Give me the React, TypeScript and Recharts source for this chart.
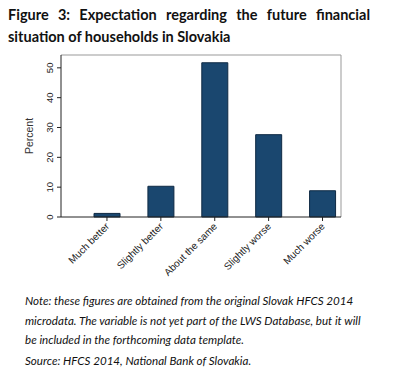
import React from 'react'
import { BarChart, Bar, XAxis, YAxis, ReferenceLine } from 'recharts'

// answers and shares (percent of households)
const categories = ['Much better', 'Slightly better', 'About the same', 'Slightly worse', 'Much worse']
const percent = [1.2, 10.3, 51.7, 27.6, 8.8]
const yTicks = [0, 10, 20, 30, 40, 50]

const data = categories.map((name, i) => ({ pos: i + 1, name, percent: percent[i] }))

const tickFont = '"Liberation Sans", Arial, sans-serif'

const YTick = ({ x, y, payload }: any) => (
  <text
    x={x - 2}
    y={y}
    transform={`rotate(-90, ${x - 2}, ${y})`}
    textAnchor="middle"
    fontSize={9.5}
    fontFamily={tickFont}
    fill="#222"
  >
    {payload.value}
  </text>
)

const XTick = ({ x, y, payload }: any) => (
  <text
    x={x + 3}
    y={y + 4}
    transform={`rotate(-45, ${x + 3}, ${y + 4})`}
    textAnchor="end"
    fontSize={10}
    fontFamily={tickFont}
    fill="#222"
  >
    {categories[payload.value - 1]}
  </text>
)

export default function App() {
  return (
    <div style={{ position: 'absolute', top: 0, left: 0, width: 400, height: 377, background: '#fff' }}>
      <div style={{
        position: 'absolute', top: 4, left: 8, width: 362,
        fontFamily: 'Lato, "Open Sans", sans-serif', fontWeight: 700, fontSize: 14.5,
        lineHeight: '22px', color: '#111',
      }}>
        <div style={{ textAlign: 'justify', textAlignLast: 'justify' }}>
          Figure 3: Expectation regarding the future financial
        </div>
        <div>situation of households in Slovakia</div>
      </div>

      <div style={{ position: 'absolute', top: 0, left: 0 }}>
        <BarChart width={400} height={300} data={data} margin={{ top: 55, right: 59, left: 36, bottom: 23 }}>
          <XAxis
            dataKey="pos"
            type="number"
            domain={[0.147, 5.343]}
            ticks={[1, 2, 3, 4, 5]}
            tick={<XTick />}
            tickSize={4}
            tickLine={{ stroke: '#222' }}
            axisLine={{ stroke: '#222' }}
            height={60}
            interval={0}
          />
          <YAxis
            domain={[0, 54.3]}
            ticks={yTicks}
            tick={<YTick />}
            tickSize={4}
            tickLine={{ stroke: '#222' }}
            axisLine={{ stroke: '#222' }}
            width={25}
            label={{
              value: 'Percent', angle: -90, position: 'insideLeft', dx: -12,
              style: { fontSize: 10.5, fontFamily: tickFont, fill: '#333', textAnchor: 'middle' },
            }}
          />
          <ReferenceLine y={54.3} stroke="#999" />
          <ReferenceLine x={5.343} stroke="#999" />
          <Bar dataKey="percent" fill="#1a476f" stroke="#0f2a44" strokeWidth={1} barSize={26} isAnimationActive={false} />
        </BarChart>
      </div>

      <div style={{
        position: 'absolute', top: 291, left: 25, width: 370,
        fontFamily: 'Lato, "Open Sans", sans-serif', fontStyle: 'italic', fontSize: 11.6,
        lineHeight: '19.5px', color: '#111',
      }}>
        <div>
          Note: these figures are obtained from the original Slovak HFCS 2014<br />
          microdata. The variable is not yet part of the LWS Database, but it will<br />
          be included in the forthcoming data template.
        </div>
        <div style={{ marginTop: 1 }}>Source: HFCS 2014, National Bank of Slovakia.</div>
      </div>
    </div>
  )
}
